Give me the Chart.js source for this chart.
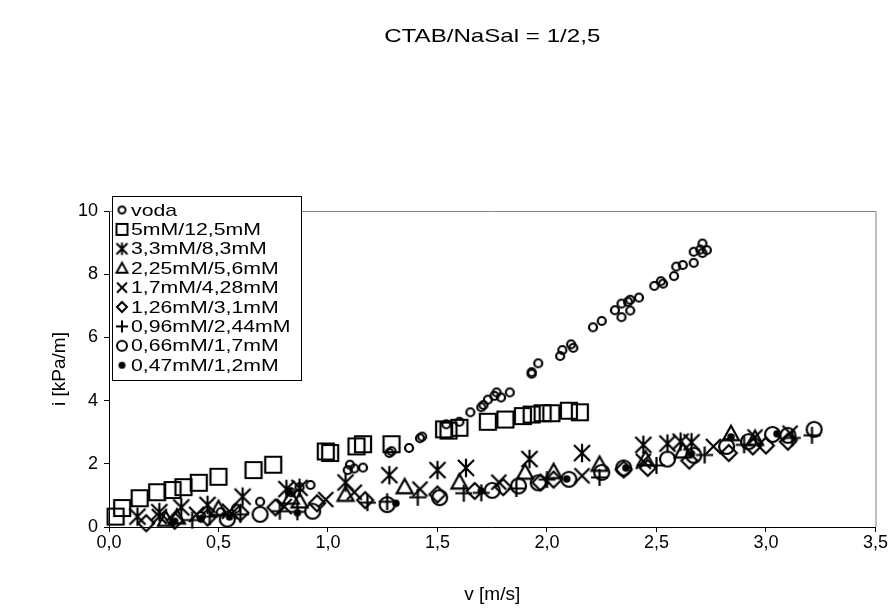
<!DOCTYPE html>
<html>
<head>
<meta charset="utf-8">
<script src="https://cdn.jsdelivr.net/npm/chart.js@4.4.1/dist/chart.umd.min.js"></script>
<style>
  html, body { margin: 0; padding: 0; background: #fff; }
</style>
</head>
<body>
<canvas id="chart" width="888" height="613"></canvas>
<script>
// series names (legend order)
const seriesNames = ["voda", "5mM/12,5mM", "3,3mM/8,3mM", "2,25mM/5,6mM", "1,7mM/4,28mM",
                     "1,26mM/3,1mM", "0,96mM/2,44mM", "0,66mM/1,7mM", "0,47mM/1,2mM"];

// v [m/s] and i [kPa/m]
const vodaV = [0.42, 0.51, 0.58, 0.69, 0.83, 0.87, 0.92, 1.09, 1.10, 1.12, 1.16, 1.28, 1.29, 1.37, 1.42, 1.43,
               1.54, 1.60, 1.65, 1.70, 1.71, 1.73, 1.76, 1.77, 1.79, 1.83, 1.93, 1.93, 1.96, 2.06, 2.07, 2.11,
               2.12, 2.21, 2.25, 2.31, 2.34, 2.34, 2.37, 2.38, 2.38, 2.42, 2.49, 2.52, 2.53, 2.58, 2.59, 2.62,
               2.67, 2.67, 2.70, 2.71, 2.71, 2.73];
const vodaI = [0.35, 0.47, 0.59, 0.80, 1.10, 1.26, 1.33, 1.80, 1.97, 1.85, 1.88, 2.34, 2.40, 2.50, 2.81, 2.86,
               3.25, 3.33, 3.63, 3.79, 3.86, 4.03, 4.15, 4.26, 4.10, 4.26, 4.85, 4.90, 5.18, 5.41, 5.60, 5.78,
               5.67, 6.32, 6.52, 6.86, 6.64, 7.07, 7.13, 6.85, 7.19, 7.26, 7.63, 7.78, 7.70, 7.94, 8.24, 8.29,
               8.36, 8.71, 8.78, 8.97, 8.67, 8.76];

const s5V = [0.03, 0.06, 0.14, 0.22, 0.29, 0.34, 0.41, 0.50, 0.66, 0.75, 0.99, 1.01, 1.13, 1.16, 1.29, 1.53,
             1.55, 1.60, 1.73, 1.81, 1.89, 1.93, 1.98, 2.02, 2.10, 2.15];
const s5I = [0.33, 0.60, 0.91, 1.10, 1.17, 1.26, 1.40, 1.59, 1.80, 1.97, 2.39, 2.34, 2.55, 2.62, 2.62, 3.09,
             3.05, 3.14, 3.33, 3.40, 3.51, 3.56, 3.60, 3.60, 3.68, 3.63];

const s33V = [0.13, 0.23, 0.33, 0.45, 0.61, 0.81, 0.87, 1.08, 1.28, 1.50, 1.63, 1.92, 2.16, 2.44, 2.55, 2.61, 2.66];
const s33I = [0.33, 0.47, 0.62, 0.70, 0.96, 1.20, 1.24, 1.41, 1.64, 1.80, 1.87, 2.15, 2.34, 2.60, 2.64, 2.70, 2.68];

const s225V = [0.26, 0.31, 0.50, 0.83, 0.87, 1.08, 1.35, 1.60, 1.90, 2.03, 2.24, 2.45, 2.62, 2.84, 2.95];
const s225I = [0.24, 0.31, 0.58, 0.94, 0.82, 1.03, 1.27, 1.42, 1.73, 1.75, 1.98, 2.15, 2.40, 2.95, 2.80];

const s17V = [0.23, 0.40, 0.55, 0.80, 0.99, 1.12, 1.42, 1.78, 2.16, 2.44, 2.76, 2.95, 3.11];
const s17I = [0.33, 0.40, 0.50, 0.65, 0.87, 1.10, 1.20, 1.42, 1.62, 2.08, 2.55, 2.85, 2.97];

const s126V = [0.17, 0.30, 0.45, 0.60, 0.76, 0.95, 1.17, 1.50, 1.67, 1.80, 1.97, 2.03, 2.35, 2.46, 2.65, 2.83,
               2.94, 3.00, 3.10];
const s126I = [0.12, 0.20, 0.30, 0.45, 0.62, 0.75, 0.85, 1.03, 1.14, 1.26, 1.41, 1.50, 1.82, 1.87, 2.10, 2.34,
               2.55, 2.58, 2.70];

const s096V = [0.38, 0.46, 0.60, 0.78, 0.86, 1.18, 1.27, 1.41, 1.62, 1.70, 1.86, 2.00, 2.24, 2.50, 2.72, 2.90,
               3.12, 3.21];
const s096I = [0.22, 0.33, 0.40, 0.50, 0.48, 0.77, 0.80, 0.94, 1.07, 1.08, 1.22, 1.50, 1.57, 1.95, 2.28, 2.60,
               2.82, 2.90];

const s066V = [0.54, 0.69, 0.93, 1.27, 1.51, 1.75, 1.87, 1.96, 2.10, 2.25, 2.35, 2.55, 2.67, 2.82, 2.92, 3.03,
               3.10, 3.22];
const s066I = [0.25, 0.40, 0.50, 0.71, 0.93, 1.16, 1.30, 1.40, 1.51, 1.73, 1.87, 2.15, 2.27, 2.55, 2.70, 2.93,
               2.90, 3.09];

const s047V = [0.30, 0.42, 0.55, 0.82, 0.86, 1.31, 1.70, 2.09, 2.36, 2.66, 2.84, 3.05];
const s047I = [0.18, 0.25, 0.32, 1.10, 0.45, 0.75, 1.14, 1.52, 1.87, 2.32, 2.85, 2.95];

const xTicks = [0, 0.5, 1, 1.5, 2, 2.5, 3, 3.5];
const yTicks = [0, 2, 4, 6, 8, 10];

const FONT = "'Liberation Sans', Arial, sans-serif";

// marker images, drawn once on small canvases
function makeMarker(kind, s, lw) {
    const pad = Math.ceil(lw) + 1;
    const size = Math.ceil(s) + 2 * pad;
    const c = document.createElement("canvas");
    c.width = size;
    c.height = size;
    const g = c.getContext("2d");
    g.translate(size / 2, size / 2);
    g.strokeStyle = "#000";
    g.fillStyle = "#000";
    g.lineWidth = lw;
    const h = s / 2;
    g.beginPath();
    if (kind === "circle") {
        g.arc(0, 0, h, 0, 2 * Math.PI);
        g.stroke();
    } else if (kind === "dot") {
        g.arc(0, 0, h, 0, 2 * Math.PI);
        g.fill();
    } else if (kind === "square") {
        g.rect(-h, -h, s, s);
        g.stroke();
    } else if (kind === "triangle") {
        g.moveTo(0, -h);
        g.lineTo(h, h * 0.8);
        g.lineTo(-h, h * 0.8);
        g.closePath();
        g.stroke();
    } else if (kind === "diamond") {
        g.moveTo(0, -h);
        g.lineTo(h, 0);
        g.lineTo(0, h);
        g.lineTo(-h, 0);
        g.closePath();
        g.stroke();
    } else if (kind === "x") {
        g.moveTo(-h, -h); g.lineTo(h, h);
        g.moveTo(h, -h); g.lineTo(-h, h);
        g.stroke();
    } else if (kind === "plus") {
        g.moveTo(-h, 0); g.lineTo(h, 0);
        g.moveTo(0, -h); g.lineTo(0, h);
        g.stroke();
    } else if (kind === "star") {
        g.moveTo(-h, -h); g.lineTo(h, h);
        g.moveTo(h, -h); g.lineTo(-h, h);
        g.moveTo(0, -h * 1.15); g.lineTo(0, h * 1.15);
        g.stroke();
    }
    return c;
}

const kinds = ["circle", "square", "star", "triangle", "x", "diamond", "plus", "circle", "dot"];
const dataSizes = [8, 16, 16, 16, 15, 16, 17, 15, 7.5];
const legendSizes = [7, 11, 11, 11, 10, 10, 12, 10, 7];
const dataMarkers = kinds.map((k, i) => makeMarker(k, dataSizes[i], 2.2));
const legendMarkers = kinds.map((k, i) => makeMarker(k, legendSizes[i], 2));

const seriesV = [vodaV, s5V, s33V, s225V, s17V, s126V, s096V, s066V, s047V];
const seriesI = [vodaI, s5I, s33I, s225I, s17I, s126I, s096I, s066I, s047I];

const datasets = seriesNames.map((name, k) => ({
    label: name,
    data: seriesV[k].map((v, j) => ({ x: v, y: seriesI[k][j] })),
    pointStyle: dataMarkers[k],
    pointRadius: 5,
    showLine: false,
    clip: false,
    order: seriesNames.length - 1 - k
}));

const PLOT = { left: 109, right: 876, top: 211, bottom: 527 };

// text drawn a bit wider than the font, like the stretched original
function wideText(ctx, text, x, y, size, sx, align) {
    ctx.save();
    ctx.font = size + "px " + FONT;
    ctx.textBaseline = "middle";
    ctx.textAlign = align;
    ctx.translate(x, y);
    ctx.scale(sx, 1);
    ctx.fillText(text, 0, 0);
    ctx.restore();
}

// title, plot frame and the boxed legend
const extras = {
    id: "extras",
    afterDatasetsDraw(chart) {
        const ctx = chart.ctx;
        const a = chart.chartArea;
        ctx.save();
        ctx.strokeStyle = "#808080";
        ctx.lineWidth = 1;
        ctx.beginPath();
        ctx.moveTo(a.left, a.top + 0.5);
        ctx.lineTo(a.right + 0.5, a.top + 0.5);
        ctx.lineTo(a.right + 0.5, a.bottom);
        ctx.stroke();

        ctx.fillStyle = "#000";
        wideText(ctx, "CTAB/NaSal = 1/2,5", (a.left + a.right) / 2, 37, 19, 1.27, "center");

        // legend box
        const lx = 112, ly = 196, lw = 189, lh = 184;
        ctx.fillStyle = "#fff";
        ctx.fillRect(lx, ly, lw, lh);
        ctx.strokeStyle = "#000";
        ctx.strokeRect(lx + 0.5, ly + 0.5, lw, lh);
        ctx.fillStyle = "#000";
        seriesNames.forEach((name, k) => {
            const y = 210 + k * 19.4;
            const m = legendMarkers[k];
            ctx.drawImage(m, 122 - m.width / 2, y - m.height / 2);
            wideText(ctx, name, 131, y + 1, 17, 1.25, "left");
        });
        ctx.restore();
    }
};

new Chart(document.getElementById("chart"), {
    type: "scatter",
    data: { datasets: datasets },
    options: {
        responsive: false,
        animation: false,
        layout: { padding: { top: PLOT.top, right: 888 - PLOT.right, left: 0, bottom: 0 } },
        plugins: {
            legend: { display: false },
            title: { display: false },
            tooltip: { enabled: false }
        },
        scales: {
            x: {
                type: "linear",
                min: 0,
                max: 3.5,
                afterFit(scale) { scale.height = 613 - PLOT.bottom; },
                afterBuildTicks(scale) { scale.ticks = xTicks.map(v => ({ value: v })); },
                ticks: {
                    color: "#000",
                    font: { family: FONT, size: 18 },
                    padding: 0,
                    maxRotation: 0,
                    callback: v => v.toFixed(1).replace(".", ",")
                },
                grid: { drawOnChartArea: false, drawTicks: true, tickLength: 5, color: "#000" },
                border: { color: "#000", width: 1 },
                title: {
                    display: true,
                    text: "v [m/s]",
                    color: "#000",
                    font: { family: FONT, size: 19 },
                    padding: { top: 0, bottom: 7 }
                }
            },
            y: {
                type: "linear",
                min: 0,
                max: 10,
                afterFit(scale) { scale.width = PLOT.left; },
                afterBuildTicks(scale) { scale.ticks = yTicks.map(v => ({ value: v })); },
                ticks: {
                    color: "#000",
                    font: { family: FONT, size: 18 },
                    padding: 6,
                    callback: v => String(v)
                },
                grid: { drawOnChartArea: false, drawTicks: true, tickLength: 5, color: "#000" },
                border: { color: "#000", width: 1 },
                title: {
                    display: true,
                    text: "i [kPa/m]",
                    color: "#000",
                    font: { family: FONT, size: 19 },
                    padding: { top: 48, bottom: 0 }
                }
            }
        }
    },
    plugins: [extras]
});
</script>
</body>
</html>
